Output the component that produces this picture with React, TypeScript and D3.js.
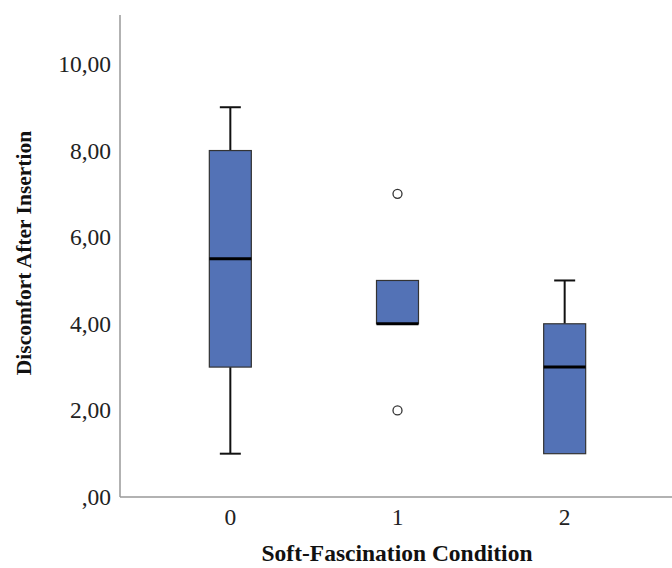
import React from 'react';
import * as d3 from 'd3';

// box statistics
const groups = ['0', '1', '2'];
const whiskerLow = [1, 4, 1];
const q1 = [3, 4, 1];
const medians = [5.5, 4, 3];
const q3 = [8, 5, 4];
const whiskerHigh = [9, 5, 5];
const outliers = [[], [7, 2], []];
const yTicks = [0, 2, 4, 6, 8, 10];

const W = 672;
const H = 568;

export default function App() {
  const x = d3.scalePoint<string>().domain(groups).range([120, 675]).padding(0.66);
  const y = d3.scaleLinear().domain([0, 11.13]).range([497, 15]);
  const boxW = 42;
  const fmt = (v: number) => (v === 0 ? ',00' : d3.format('.2f')(v).replace('.', ','));
  const font = '"Liberation Serif", "Times New Roman", serif';

  return (
    <svg width={W} height={H} style={{ position: 'absolute', left: 0, top: 0, background: '#fff' }} fontFamily={font}>
      {/* axes */}
      <line x1={120} x2={120} y1={y.range()[1]} y2={y(0)} stroke="#999" strokeWidth={1.5} />
      <line x1={120} x2={W} y1={y(0)} y2={y(0)} stroke="#999" strokeWidth={1.5} />
      {yTicks.map(t => (
        <text key={t} x={111} y={y(t)} textAnchor="end" dominantBaseline="central" fontSize={23.5} fill="#222">
          {fmt(t)}
        </text>
      ))}
      {groups.map(g => (
        <text key={g} x={x(g)} y={517} textAnchor="middle" dominantBaseline="central" fontSize={23.5} fill="#222">
          {g}
        </text>
      ))}
      <text x={397} y={561} textAnchor="middle" fontSize={23.5} fontWeight="bold" fill="#111">
        Soft-Fascination Condition
      </text>
      <text transform={`translate(31,253) rotate(-90)`} textAnchor="middle" fontSize={21.5} fontWeight="bold" fill="#111">
        Discomfort After Insertion
      </text>

      {/* boxes */}
      {groups.map((g, i) => {
        const cx = x(g) as number;
        return (
          <g key={g}>
            {whiskerHigh[i] > q3[i] && (
              <>
                <line x1={cx} x2={cx} y1={y(q3[i])} y2={y(whiskerHigh[i])} stroke="#111" strokeWidth={2} />
                <line x1={cx - boxW / 4} x2={cx + boxW / 4} y1={y(whiskerHigh[i])} y2={y(whiskerHigh[i])} stroke="#111" strokeWidth={2} />
              </>
            )}
            {whiskerLow[i] < q1[i] && (
              <>
                <line x1={cx} x2={cx} y1={y(q1[i])} y2={y(whiskerLow[i])} stroke="#111" strokeWidth={2} />
                <line x1={cx - boxW / 4} x2={cx + boxW / 4} y1={y(whiskerLow[i])} y2={y(whiskerLow[i])} stroke="#111" strokeWidth={2} />
              </>
            )}
            <rect x={cx - boxW / 2} y={y(q3[i])} width={boxW} height={y(q1[i]) - y(q3[i])} fill="#5372b6" stroke="#333" strokeWidth={1.2} />
            <line x1={cx - boxW / 2} x2={cx + boxW / 2} y1={y(medians[i])} y2={y(medians[i])} stroke="#000" strokeWidth={3} />
            {outliers[i].map((o, j) => (
              <circle key={j} cx={cx} cy={y(o)} r={4.5} fill="#fff" stroke="#333" strokeWidth={1.3} />
            ))}
          </g>
        );
      })}
    </svg>
  );
}
